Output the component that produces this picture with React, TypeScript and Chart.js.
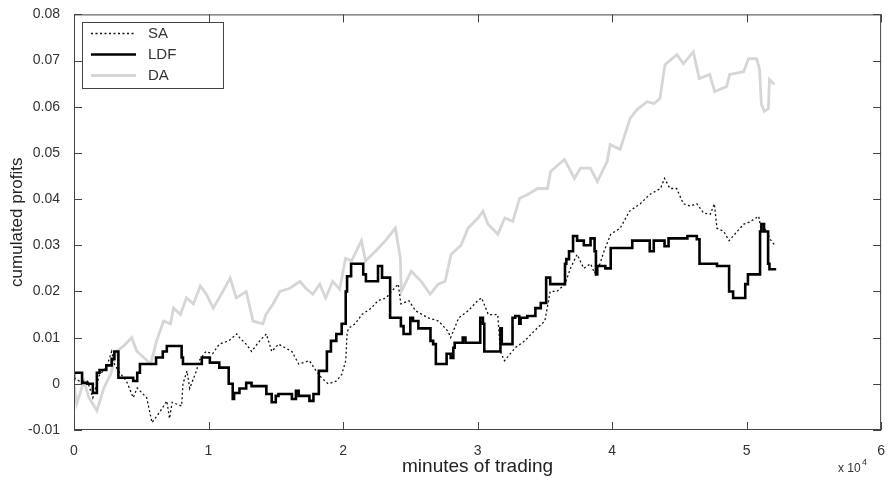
import React, { useEffect, useRef } from "react";
import { Chart, registerables } from "chart.js";

Chart.register(...registerables);

// x values in minutes of trading, y values cumulated profits
const saX = [0, 400, 1000, 1400, 1900, 2400, 2800, 3000, 3300, 3900, 4400, 4700, 5400, 5800, 6400, 6900, 7100, 7300, 8000, 8100, 8400, 8600, 9100, 9300, 9800, 10300, 10800, 11500, 12100, 12300, 12800, 13200, 13800, 14300, 14700, 15200, 16200, 16700, 17500, 18000, 18400, 18900, 19500, 19900, 20200, 20300, 20400, 20900, 21400, 22100, 22600, 23200, 23600, 24100, 24300, 24900, 25400, 26300, 27100, 27800, 28000, 28600, 29300, 30000, 30300, 30800, 31500, 31700, 32000, 32800, 33500, 34200, 35000, 35400, 35900, 36500, 36900, 37400, 37900, 38400, 38700, 39100, 39400, 39900, 40600, 41300, 42100, 42800, 43600, 43900, 44300, 44800, 45300, 45800, 46300, 46800, 47300, 47600, 47800, 48300, 48700, 49300, 49800, 50200, 50900, 51100, 51500, 51700, 52100];
const saY = [0.0013, 0.0006, 0.0006, -0.003, 0.002, 0.0035, 0.007, 0.0043, 0.0028, 0.0006, -0.003, -0.0009, -0.003, -0.0084, -0.006, -0.0037, -0.0075, -0.004, -0.0048, 0.0, 0.0028, -0.001, 0.0028, 0.005, 0.007, 0.0065, 0.0086, 0.0093, 0.0108, 0.01, 0.0086, 0.007, 0.0093, 0.0108, 0.007, 0.0086, 0.007, 0.0043, 0.005, 0.0028, 0.0013, 0.0, 0.0006, 0.002, 0.005, 0.0108, 0.012, 0.013, 0.015, 0.0164, 0.018, 0.0186, 0.02, 0.0216, 0.0173, 0.018, 0.0158, 0.0143, 0.0136, 0.0114, 0.01, 0.0143, 0.0158, 0.018, 0.0186, 0.015, 0.015, 0.007, 0.005, 0.0078, 0.0093, 0.0114, 0.0136, 0.02, 0.02, 0.0216, 0.025, 0.028, 0.025, 0.026, 0.024, 0.026, 0.0287, 0.0324, 0.0337, 0.0374, 0.039, 0.041, 0.0423, 0.0445, 0.0423, 0.0423, 0.039, 0.0385, 0.039, 0.037, 0.0367, 0.039, 0.0337, 0.033, 0.031, 0.033, 0.0346, 0.035, 0.0363, 0.033, 0.0335, 0.0315, 0.03];

const ldfX = [0, 600, 1000, 1400, 1700, 1900, 2400, 2800, 3000, 3300, 4400, 4700, 4900, 6100, 6600, 6900, 8000, 8100, 9500, 10100, 10800, 11500, 11800, 11900, 12300, 12800, 13200, 14300, 14700, 15000, 15200, 16200, 16500, 16700, 17500, 17800, 18200, 18800, 19100, 19500, 19900, 20200, 20300, 20600, 21500, 21700, 22600, 22900, 23500, 24300, 24500, 25000, 25200, 25600, 26500, 26700, 26900, 27700, 28000, 28200, 28300, 28900, 29100, 30200, 30400, 30500, 31700, 31800, 32600, 32800, 33100, 33200, 33700, 34300, 34700, 35100, 35400, 36500, 36600, 36800, 37100, 37400, 37900, 38400, 38700, 38800, 38900, 39500, 39900, 41500, 42800, 43100, 43900, 44200, 45600, 46300, 46500, 47800, 48700, 49000, 49900, 50100, 51000, 51100, 51300, 51600, 51700, 52000, 52200];
const ldfY = [0.0006, 0.0024, 0.0002, 0.0, -0.002, 0.0024, 0.003, 0.004, 0.0054, 0.007, 0.0013, 0.0006, 0.0024, 0.0043, 0.0057, 0.007, 0.0082, 0.0057, 0.0043, 0.0057, 0.0046, 0.0035, 0.0, -0.0033, -0.002, -0.001, 0.0002, -0.0005, -0.0022, -0.004, -0.0026, -0.0022, -0.0033, -0.0015, -0.0026, -0.0037, -0.0022, 0.0028, 0.007, 0.0093, 0.0108, 0.013, 0.02, 0.0233, 0.026, 0.0237, 0.0222, 0.0255, 0.023, 0.0143, 0.0125, 0.0108, 0.0143, 0.0136, 0.012, 0.0093, 0.0086, 0.0043, 0.0065, 0.0056, 0.0078, 0.0089, 0.01, 0.0089, 0.0143, 0.013, 0.007, 0.012, 0.0086, 0.0143, 0.0147, 0.013, 0.0143, 0.0147, 0.0164, 0.0175, 0.023, 0.0216, 0.026, 0.027, 0.0287, 0.032, 0.031, 0.03, 0.0315, 0.0287, 0.0237, 0.0255, 0.025, 0.0294, 0.031, 0.0287, 0.031, 0.0298, 0.0315, 0.032, 0.0313, 0.026, 0.0255, 0.02, 0.0186, 0.0216, 0.0237, 0.033, 0.0346, 0.033, 0.026, 0.0248, 0.0248];

const daX = [0, 200, 740, 1110, 1700, 2220, 2740, 3180, 3700, 4290, 4660, 5700, 6140, 6660, 7170, 7400, 7910, 8360, 8880, 9390, 9840, 10350, 10870, 11610, 12060, 12800, 13310, 14050, 14270, 14790, 15310, 16050, 16790, 17230, 17750, 18270, 18710, 19230, 19750, 20190, 20630, 21370, 21670, 22410, 23150, 23890, 24260, 24330, 25070, 25810, 26480, 27070, 27590, 28030, 28770, 29290, 30030, 30400, 30770, 31510, 32020, 32620, 33130, 33730, 34470, 35200, 35430, 36460, 37200, 37650, 38390, 38900, 39640, 39860, 40600, 41340, 41860, 42600, 43120, 43560, 43930, 44820, 45300, 46040, 46480, 47260, 47630, 48520, 48740, 49780, 50140, 50740, 50960, 51100, 51330, 51620, 51700, 52070];
const daY = [0, -0.0043, 0.0006, -0.003, -0.0058, -0.0009, 0.0022, 0.0071, 0.0082, 0.01, 0.0071, 0.0043, 0.0093, 0.0136, 0.013, 0.0164, 0.015, 0.0186, 0.0173, 0.0212, 0.0194, 0.0164, 0.019, 0.0229, 0.0186, 0.02, 0.0136, 0.013, 0.015, 0.0173, 0.02, 0.0207, 0.0222, 0.0207, 0.0194, 0.0216, 0.0186, 0.0222, 0.0205, 0.0272, 0.0266, 0.031, 0.0266, 0.0287, 0.031, 0.0337, 0.0272, 0.02, 0.0244, 0.0222, 0.0194, 0.0216, 0.0222, 0.028, 0.03, 0.0337, 0.0359, 0.0374, 0.0346, 0.0324, 0.0359, 0.0352, 0.0402, 0.041, 0.0423, 0.0423, 0.046, 0.0486, 0.0445, 0.0467, 0.0467, 0.0438, 0.0482, 0.0518, 0.0508, 0.0575, 0.0594, 0.0611, 0.0607, 0.0618, 0.0691, 0.0713, 0.0693, 0.0719, 0.0661, 0.067, 0.0633, 0.0644, 0.067, 0.0676, 0.0704, 0.0704, 0.0682, 0.0605, 0.059, 0.0596, 0.0659, 0.0648];

const seriesNames = ["SA", "LDF", "DA"];
const xTickValues = [0, 10000, 20000, 30000, 40000, 50000, 60000];
const yTickValues = [-0.01, 0, 0.01, 0.02, 0.03, 0.04, 0.05, 0.06, 0.07, 0.08];

const FONT = "'Liberation Sans', Arial, Helvetica, sans-serif";
const TEXT = "#333333";
const AXIS = "#444444";

function toPoints(xs: number[], ys: number[]) {
  return xs.map((x, i) => ({ x, y: ys[i] }));
}

const frame = {
  id: "matlabFrame",
  afterDatasetsDraw(chart: any) {
    const { ctx, chartArea: a, scales } = chart;
    ctx.save();
    ctx.strokeStyle = AXIS;
    ctx.lineWidth = 1;
    ctx.strokeRect(a.left + 0.5, a.top + 0.5, a.right - a.left - 1, a.bottom - a.top - 1);
    const tl = 8;
    ctx.beginPath();
    xTickValues.forEach((v) => {
      const px = Math.round(scales.x.getPixelForValue(v)) + 0.5;
      ctx.moveTo(px, a.bottom);
      ctx.lineTo(px, a.bottom - tl);
      ctx.moveTo(px, a.top);
      ctx.lineTo(px, a.top + tl);
    });
    yTickValues.forEach((v) => {
      const py = Math.round(scales.y.getPixelForValue(v)) + 0.5;
      ctx.moveTo(a.left, py);
      ctx.lineTo(a.left + tl, py);
      ctx.moveTo(a.right, py);
      ctx.lineTo(a.right - tl, py);
    });
    ctx.stroke();

    // legend box
    const lx = 82, ly = 22, lw = 141, lh = 66;
    ctx.fillStyle = "#ffffff";
    ctx.fillRect(lx, ly, lw, lh);
    ctx.strokeStyle = AXIS;
    ctx.strokeRect(lx + 0.5, ly + 0.5, lw, lh);
    const rows = [33, 54, 75];
    chart.data.datasets.forEach((ds: any, i: number) => {
      const y = rows[i] + 0.5;
      ctx.save();
      ctx.strokeStyle = ds.borderColor;
      ctx.lineWidth = ds.borderWidth;
      ctx.setLineDash(ds.borderDash || []);
      ctx.beginPath();
      ctx.moveTo(91, y);
      ctx.lineTo(136, y);
      ctx.stroke();
      ctx.restore();
      ctx.fillStyle = TEXT;
      ctx.font = `15px ${FONT}`;
      ctx.textBaseline = "middle";
      ctx.textAlign = "left";
      ctx.fillText(ds.label, 148, rows[i] + 1);
    });

    // exponent label
    ctx.fillStyle = TEXT;
    ctx.font = `12px ${FONT}`;
    ctx.textBaseline = "alphabetic";
    ctx.textAlign = "left";
    ctx.fillText("x 10", 838, 472);
    ctx.font = `9px ${FONT}`;
    ctx.fillText("4", 862, 465);
    ctx.restore();
  },
};

export default function App() {
  const ref = useRef<HTMLCanvasElement | null>(null);
  useEffect(() => {
    if (!ref.current) return;
    const chart = new Chart(ref.current, {
      type: "line",
      data: {
        datasets: [
          {
            label: seriesNames[0],
            data: toPoints(saX, saY),
            borderColor: "#111111",
            borderWidth: 1.3,
            borderDash: [2, 2.5],
            pointRadius: 0,
            tension: 0,
            order: 1,
          },
          {
            label: seriesNames[1],
            data: toPoints(ldfX, ldfY),
            borderColor: "#000000",
            borderWidth: 2.6,
            stepped: "after",
            pointRadius: 0,
            order: 0,
          },
          {
            label: seriesNames[2],
            data: toPoints(daX, daY),
            borderColor: "#d6d6d6",
            borderWidth: 2.8,
            pointRadius: 0,
            tension: 0,
            order: 2,
          },
        ],
      },
      options: {
        responsive: false,
        animation: false,
        parsing: false as any,
        layout: { padding: { top: 14, right: 5, left: 0, bottom: 0 } },
        plugins: { legend: { display: false }, tooltip: { enabled: false } },
        scales: {
          x: {
            type: "linear",
            min: 0,
            max: 60000,
            afterBuildTicks: (s: any) => {
              s.ticks = xTickValues.map((v) => ({ value: v }));
            },
            afterFit: (s: any) => {
              s.height = 50;
            },
            ticks: {
              callback: (v: any) => String(Number(v) / 10000),
              font: { family: FONT, size: 14 },
              color: TEXT,
              padding: 5,
              maxRotation: 0,
            },
            grid: { display: false },
            border: { display: false },
            title: {
              display: true,
              text: "minutes of trading",
              font: { family: FONT, size: 19 },
              color: "#222222",
              padding: { top: 2, bottom: 2 },
            },
          },
          y: {
            type: "linear",
            min: -0.01,
            max: 0.08,
            afterBuildTicks: (s: any) => {
              s.ticks = yTickValues.map((v) => ({ value: v }));
            },
            afterFit: (s: any) => {
              s.width = 74;
            },
            ticks: {
              callback: (v: any) => String(Math.round(Number(v) * 100) / 100),
              font: { family: FONT, size: 14 },
              color: TEXT,
              padding: 6,
            },
            grid: { display: false },
            border: { display: false },
            title: {
              display: true,
              text: "cumulated profits",
              font: { family: FONT, size: 17 },
              color: "#222222",
              padding: { top: 7, bottom: 7 },
            },
          },
        },
      },
      plugins: [frame],
    });
    return () => chart.destroy();
  }, []);
  return (
    <div style={{ position: "absolute", left: 0, top: 0, width: 890, height: 480, background: "#fff" }}>
      <canvas ref={ref} width={890} height={480} />
    </div>
  );
}
